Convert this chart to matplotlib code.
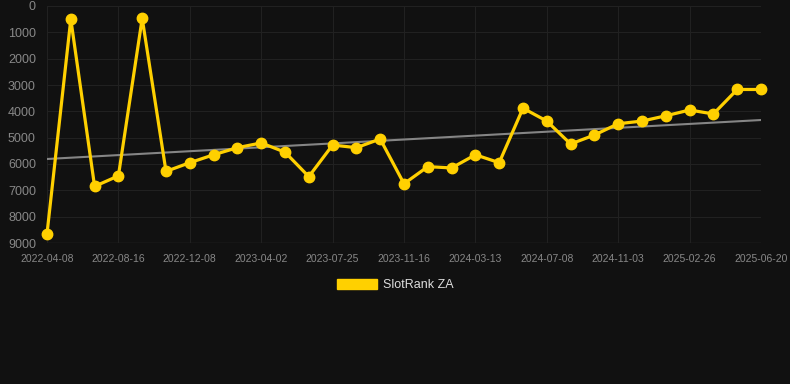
import matplotlib
matplotlib.use("Agg")
import matplotlib.pyplot as plt
import numpy as np
from matplotlib.patches import Patch

# Data
ranks = [8650, 500, 6850, 6450, 470, 6280, 5950, 5650, 5380, 5200,
         5550, 6480, 5280, 5380, 5050, 6750, 6100, 6150, 5650, 5950,
         3880, 4370, 5240, 4900, 4470, 4370, 4170, 3950, 4100, 3170, 3170]
tick_labels = ["2022-04-08", "2022-08-16", "2022-12-08", "2023-04-02",
               "2023-07-25", "2023-11-16", "2024-03-13", "2024-07-08",
               "2024-11-03", "2025-02-26", "2025-06-20"]
tick_every = 3
trend_ends = [5810, 4330]
y_ticks = [0, 1000, 2000, 3000, 4000, 5000, 6000, 7000, 8000, 9000]
series_name = "SlotRank ZA"

plt.rcParams["font.family"] = ["Liberation Sans", "DejaVu Sans"]

bg = "#111111"
gold = "#FFD000"

fig = plt.figure(figsize=(7.9, 3.84), dpi=100, facecolor=bg)
ax = fig.add_axes([47/790, 1-243/384, (761-47)/790, (243-6)/384], facecolor=bg)

x = np.arange(len(ranks))
ax.plot([x[0], x[-1]], trend_ends, color="#858585", lw=1.5, zorder=2)
ax.plot(x, ranks, color=gold, lw=2.3, marker="o", markersize=7.5,
        solid_joinstyle="miter", zorder=3, clip_on=False, label=series_name)

ax.set_xlim(0, len(ranks)-1)
ax.set_ylim(9000, 0)
ax.set_yticks(y_ticks)
ax.set_yticklabels([str(v) for v in y_ticks])
ax.set_xticks(x[::tick_every])
ax.set_xticklabels(tick_labels)

ax.grid(True, color="#212121", lw=0.8)
for s in ax.spines.values():
    s.set_visible(False)
ax.axhline(9000, color="#2c2c2c", lw=1, zorder=1)
ax.tick_params(axis="both", length=0, colors="#888888")
ax.tick_params(axis="y", labelsize=9, pad=8)
ax.tick_params(axis="x", labelsize=7.5, pad=8)

leg = fig.legend(handles=[Patch(facecolor=gold, edgecolor=gold, label=series_name)],
                 loc="center", bbox_to_anchor=(0.5, 1-285/384), frameon=False,
                 fontsize=9, handlelength=3.2, handleheight=0.8, handletextpad=0.5)
for t in leg.get_texts():
    t.set_color("#dddddd")

fig.savefig("out.png", dpi=100, facecolor=bg)
